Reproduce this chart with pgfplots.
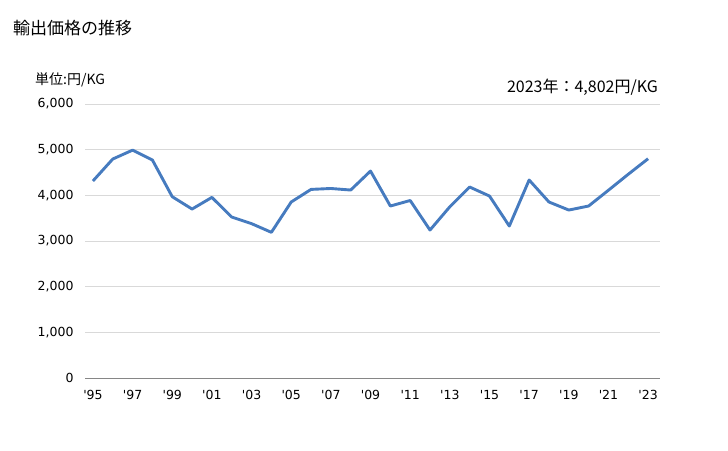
\documentclass[border=0pt]{standalone}
\usepackage{pgfplots}
\pgfplotsset{compat=1.18}
\usepackage{fontspec}
\setmainfont{Noto Sans CJK JP}
\newfontfamily\numfont{DejaVu Sans}
\definecolor{lineblue}{RGB}{70,123,191}
\definecolor{gridgray}{RGB}{217,217,217}
\definecolor{axisgray}{RGB}{134,134,134}
\begin{document}
\begin{tikzpicture}
\path[use as bounding box] (0pt,0pt) rectangle (728pt,-450pt);
\node[anchor=west,font=\fontsize{17}{19}\selectfont,inner sep=0pt] at (13pt,-28pt) {輸出価格の推移};
\node[anchor=west,font=\fontsize{14}{16}\selectfont,inner sep=0pt] at (35pt,-80pt) {単位:円/KG};
\node[anchor=east,font=\fontsize{16}{18}\selectfont,inner sep=0pt] at (658pt,-87pt) {2023年：4,802円/KG};
\begin{axis}[
  at={(85pt,-378pt)}, anchor=south west,
  scale only axis, width=575pt, height=274pt,
  xmin=1994.6, xmax=2023.6, ymin=0, ymax=6000,
  xtick={1995,1997,...,2023},
  xticklabels={'95,'97,'99,'01,'03,'05,'07,'09,'11,'13,'15,'17,'19,'21,'23},
  ytick={0,1000,...,6000},
  /pgf/number format/assume math mode=true,
  yticklabel style={font=\numfont\fontsize{12.5}{14}\selectfont, xshift=-8pt},
  xticklabel style={font=\numfont\fontsize{12.5}{14}\selectfont, yshift=-9pt},
  scaled y ticks=false,
  yticklabel={\pgfmathprintnumber[1000 sep={,}]{\tick}},
  axis line style={draw=none},
  major tick length=0pt,
  ymajorgrids, grid style={gridgray, line width=0.8pt},
  clip=false,
]
\addplot[lineblue, line width=2.9pt, line join=round] coordinates {
(1995,4314) (1996,4795) (1997,4990) (1998,4773) (1999,3970) (2000,3700)
(2001,3955) (2002,3525) (2003,3380) (2004,3190) (2005,3854) (2006,4130)
(2007,4150) (2008,4116) (2009,4532) (2010,3766) (2011,3887) (2012,3240)
(2013,3750) (2014,4182) (2015,3985) (2016,3328) (2017,4336) (2018,3854)
(2019,3678) (2020,3766) (2021,4112) (2022,4462) (2023,4802)
};
\draw[axisgray, line width=0.8pt] (rel axis cs:0,0) -- (rel axis cs:1,0);
\end{axis}
\end{tikzpicture}
\end{document}
